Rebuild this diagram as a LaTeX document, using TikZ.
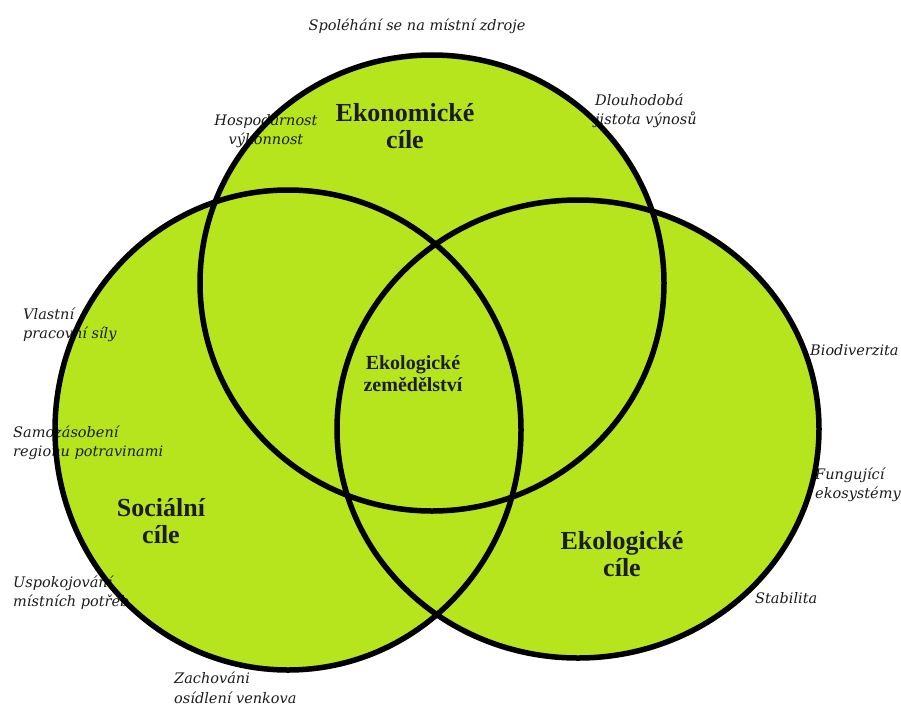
\documentclass[tikz,border=0pt]{standalone}
\usepackage{fontspec}
\setmainfont{Liberation Serif}
\newfontfamily\notefont{DejaVu Serif}
\usepackage{tikz}
\usetikzlibrary{positioning}
\definecolor{leafgreen}{RGB}{182,229,29}
\definecolor{ink}{RGB}{28,28,28}

\begin{document}
\begin{tikzpicture}[
    x=1pt, y=-1pt,
    setfill/.style={fill=leafgreen},
    setrim/.style={draw=black, line width=5.5pt},
    goal/.style={font=\fontsize{26}{27}\selectfont\bfseries, text=ink, align=center, inner sep=0pt},
    core/.style={font=\fontsize{20}{22}\selectfont\bfseries, text=ink, align=center, inner sep=0pt},
    note/.style={font=\notefont\itshape\fontsize{14.5}{19.5}\selectfont, text=ink, align=left, inner sep=0pt}
]
  \useasboundingbox (0,0) rectangle (901,706);

  % the three sets, filled first
  \fill[setfill] (432,283) ellipse [x radius=232, y radius=228];
  \fill[setfill] (288,430) ellipse [x radius=233, y radius=240];
  \fill[setfill] (578,429) ellipse [x radius=241, y radius=229];

  % set titles
  \node[goal] (econ) at (405,126.5) {Ekonomické\\cíle};
  \node[goal] (social) at (161,521.5) {Sociální\\cíle};
  \node[goal] (eco) at (622,554.5) {Ekologické\\cíle};
  \node[core] (organic) at (413,374) {Ekologické\\zemědělství};

  % goals round the outside
  \node[note, align=center] (local) at (417,26) {Spoléhání se na místní zdroje};
  \node[note, align=center] (thrift) at (266,131) {Hospodárnost\\výkonnost};
  \node[note, anchor=west] (yield) at (595,111) {Dlouhodobá\\jistota výnosů};
  \node[note, anchor=west] (labour) at (23,325) {Vlastní\\pracovní síly};
  \node[note, anchor=west] (supply) at (13,443) {Samozásobení\\regionu potravinami};
  \node[note, anchor=west] (needs) at (13,592.5) {Uspokojování\\místních potřeb};
  \node[note, anchor=west] (rural) at (174,688) {Zachováni\\osídlení venkova};
  \node[note, anchor=west] (biodiv) at (810,350) {Biodiverzita};
  \node[note, anchor=west] (ecosys) at (815,485) {Fungující\\ekosystémy};
  \node[note, anchor=west] (stable) at (755,598) {Stabilita};

  % outlines on top
  \draw[setrim] (432,283) ellipse [x radius=232, y radius=228];
  \draw[setrim] (288,430) ellipse [x radius=233, y radius=240];
  \draw[setrim] (578,429) ellipse [x radius=241, y radius=229];
\end{tikzpicture}
\end{document}
